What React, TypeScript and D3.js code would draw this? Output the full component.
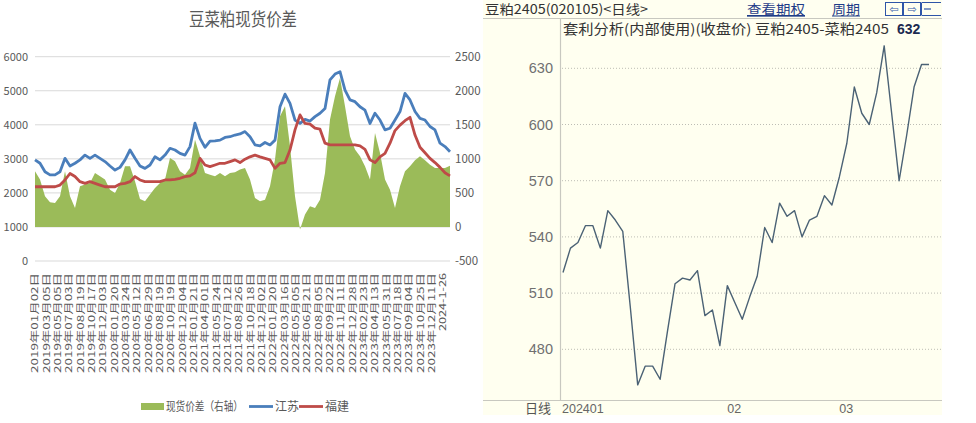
import React from 'react';
import * as d3 from 'd3';

// ---------- Left chart data ----------
const xLabels = [
  "2019年01月02日", "2019年03月05日", "2019年05月05日", "2019年07月03日", "2019年08月19日", "2019年10月17日", "2019年12月03日",
  "2020年01月20日", "2020年03月24日", "2020年05月12日", "2020年06月29日", "2020年08月19日", "2020年10月19日", "2020年12月04日",
  "2021年01月21日", "2021年04月01日", "2021年05月24日", "2021年07月12日", "2021年08月26日", "2021年10月18日", "2021年12月02日",
  "2022年01月20日", "2022年03月16日", "2022年05月05日", "2022年06月21日", "2022年08月05日", "2022年09月22日", "2022年11月11日", "2022年12月28日",
  "2023年02月23日", "2023年04月13日", "2023年05月31日", "2023年07月18日", "2023年09月04日", "2023年10月25日", "2023年12月11日",
  "2024-1-26"
];

const jiangsu = [
  2970, 2870, 2620, 2530, 2530, 2620, 3015, 2790, 2870, 2970,
  3110, 3015, 3110, 3015, 2920, 2790, 2670, 2750, 2970, 3260,
  3015, 2790, 2720, 2820, 3060, 2970, 3110, 3310, 3260, 3160,
  3110, 3360, 4050, 3600, 3340, 3520, 3530, 3550, 3630, 3650,
  3700, 3730, 3800, 3650, 3410, 3380, 3480, 3410, 3550, 4530,
  4900, 4630, 4140, 4040, 4160, 4110, 4240, 4340, 4480, 5320,
  5490, 5560, 5020, 4730, 4680, 4530, 4430, 4040, 4340, 4140,
  3850, 3900, 4140, 4390, 4920, 4730, 4390, 4190, 4140, 3950,
  3850, 3460, 3360, 3210
];

const fujian = [
  2180, 2180, 2180, 2180, 2180, 2230, 2380, 2570, 2480, 2330,
  2280, 2330, 2280, 2230, 2180, 2180, 2180, 2260, 2280, 2330,
  2480, 2380, 2330, 2330, 2330, 2330, 2380, 2380, 2400, 2430,
  2480, 2500, 2590, 3015, 2820, 2770, 2820, 2870, 2870, 2920,
  2970, 2890, 2990, 3060, 3110, 3060, 3015, 2970, 2720, 2870,
  2890, 3260, 3850, 4290, 4040, 4020, 3900, 3870, 3460, 3410,
  3410, 3410, 3410, 3410, 3410, 3380, 3280, 2970, 2890, 3060,
  3160, 3460, 3830, 3990, 4120, 4220, 3700, 3340, 3180, 3015,
  2890, 2750, 2590, 2500
];

const spotSpread = [
  817, 695, 450, 362, 352, 450, 817, 450, 279, 597,
  622, 646, 793, 744, 695, 548, 499, 646, 891, 891,
  671, 411, 377, 475, 573, 646, 695, 1013, 964, 817,
  768, 866, 1282, 1038, 793, 768, 744, 793, 744, 793,
  803, 842, 866, 695, 426, 377, 401, 597, 989, 1625,
  1772, 1185, 450, -39, 181, 303, 279, 401, 793, 1576,
  1919, 2188, 1772, 1331, 1136, 1038, 891, 695, 1380, 1087,
  695, 548, 279, 597, 817, 891, 979, 1038, 979, 915,
  866, 866, 866, 900
];

const leftTicks = [0, 1000, 2000, 3000, 4000, 5000, 6000];
const rightTicks = [-500, 0, 500, 1000, 1500, 2000, 2500];

// ---------- Right chart data ----------
const spread = [
  521, 534, 537, 546, 546, 534, 554, 549, 543, 503,
  461, 471, 471, 464, 490, 515, 518, 517, 522, 498,
  501, 482, 514, 505, 496, 508, 519, 545, 537, 558,
  551, 554, 540, 549, 551, 562, 557, 572, 590, 620,
  606, 600, 617, 642, 606, 570, 594, 620, 632, 632
];
const spreadTicks = [480, 510, 540, 570, 600, 630];
const monthTicks = ["202401", "02", "03"];
const monthTickIdx = [0, 22, 37];

const CJK = '"Noto Sans CJK SC", "Noto Sans", sans-serif';

export default function App() {
  // left chart scales
  const xL = d3.scaleLinear().domain([0, jiangsu.length - 1]).range([35, 450]);
  const yL = d3.scaleLinear().domain([0, 6000]).range([261, 56.7]);
  const yR = d3.scaleLinear().domain([-500, 2500]).range([261, 56.7]);
  const lblX = d3.scaleLinear().domain([0, xLabels.length - 1]).range([35, 443]);

  const areaGen = d3.area<number>().x((_, i) => xL(i)).y0(yR(0)).y1((d) => yR(d));
  const lineGen = d3.line<number>().x((_, i) => xL(i)).y((d) => yL(d));

  // right chart scales
  const xS = d3.scaleLinear().domain([0, spread.length - 1]).range([563, 929]);
  const yS = d3.scaleLinear().domain([480, 630]).range([349.3, 68.3]);
  const spreadLine = d3.line<number>().x((_, i) => xS(i)).y((d) => yS(d));

  return (
    <svg width={976} height={423} style={{ position: 'absolute', left: 0, top: 0, background: '#fff' }}>
      <rect x={0} y={0} width={976} height={423} fill="#fff" />
      {/* ================= LEFT CHART ================= */}
      <text x={243} y={26} textAnchor="middle" fontFamily={CJK} fontSize={18} fill="#595959" textLength={108} lengthAdjust="spacingAndGlyphs">豆菜粕现货价差</text>
      {leftTicks.map((t) => (
        <g key={'lg' + t}>
          <line x1={35} x2={450} y1={yL(t)} y2={yL(t)} stroke="#d9d9d9" strokeWidth={1} />
          <text x={28} y={yL(t) + 4} textAnchor="end" fontFamily={CJK} fontSize={11} fill="#595959">{t}</text>
        </g>
      ))}
      {rightTicks.map((t) => (
        <text key={'rt' + t} x={455} y={yR(t) + 4} textAnchor="start" fontFamily={CJK} fontSize={11.5} fill="#595959">{t}</text>
      ))}
      <path d={areaGen(spotSpread) || ''} fill="#9bbb59" />
      <path d={lineGen(jiangsu) || ''} fill="none" stroke="#4a7ebb" strokeWidth={2.8} strokeLinejoin="round" />
      <path d={lineGen(fujian) || ''} fill="none" stroke="#be4b48" strokeWidth={2.8} strokeLinejoin="round" />
      {xLabels.map((l, i) => (
        <text key={'xl' + i}
          transform={`translate(${lblX(i)},273) rotate(-90)`}
          dy="0.35em" textAnchor="end" fontFamily={CJK} fontSize={9.5} fill="#595959"
          textLength={i === xLabels.length - 1 ? 58 : 100} lengthAdjust="spacingAndGlyphs">{l}</text>
      ))}
      {/* legend */}
      <rect x={141} y={403} width={23} height={7} fill="#9bbb59" />
      <text x={166} y={411} fontFamily={CJK} fontSize={12} fill="#595959" textLength={77} lengthAdjust="spacingAndGlyphs">现货价差（右轴）</text>
      <line x1={249} x2={273} y1={406.5} y2={406.5} stroke="#4a7ebb" strokeWidth={2.8} />
      <text x={275} y={411} fontFamily={CJK} fontSize={12} fill="#595959">江苏</text>
      <line x1={299} x2={323} y1={406.5} y2={406.5} stroke="#be4b48" strokeWidth={2.8} />
      <text x={325} y={411} fontFamily={CJK} fontSize={12} fill="#595959">福建</text>

      {/* ================= RIGHT CHART ================= */}
      <rect x={483} y={0} width={459} height={415} fill="#fffff0" />
      <text x={485} y={14} fontFamily={CJK} fontSize={13} fill="#333" textLength={163} lengthAdjust="spacingAndGlyphs">豆粕2405(020105)&lt;日线&gt;</text>
      <text x={747} y={14} fontFamily={CJK} fontSize={13} fill="#1f3c88" textDecoration="underline" textLength={58} lengthAdjust="spacingAndGlyphs">查看期权</text>
      <line x1={747} x2={805} y1={16} y2={16} stroke="#1f3c88" strokeWidth={1} />
      <text x={832} y={14} fontFamily={CJK} fontSize={13} fill="#1f3c88" textLength={28} lengthAdjust="spacingAndGlyphs">周期</text>
      <line x1={832} x2={860} y1={16} y2={16} stroke="#1f3c88" strokeWidth={1} />
      {/* nav icons */}
      <rect x={885.5} y={2.5} width={17} height={13} fill="none" stroke="#2e55a8" strokeWidth={1} />
      <text x={894} y={13} textAnchor="middle" fontFamily="DejaVu Sans" fontSize={11} fill="#2e55a8">⇦</text>
      <rect x={903.5} y={2.5} width={17} height={13} fill="none" stroke="#2e55a8" strokeWidth={1} />
      <text x={912} y={13} textAnchor="middle" fontFamily="DejaVu Sans" fontSize={11} fill="#2e55a8">⇨</text>
      <line x1={921.5} x2={921.5} y1={2.5} y2={15.5} stroke="#2e55a8" strokeWidth={1} />
      <line x1={922} x2={941} y1={2.5} y2={2.5} stroke="#2e55a8" strokeWidth={1} />
      <line x1={922} x2={941} y1={15.5} y2={15.5} stroke="#2e55a8" strokeWidth={1} />
      <line x1={924} x2={931} y1={9} y2={9} stroke="#2e55a8" strokeWidth={1.2} />
      <line x1={483} x2={942} y1={18.5} y2={18.5} stroke="#c8c8c0" strokeWidth={1} />

      {spreadTicks.map((t) => (
        <g key={'st' + t}>
          <line x1={562} x2={942} y1={yS(t)} y2={yS(t)} stroke="#bdbdb5" strokeWidth={1} strokeDasharray="1,2" />
          <text x={553} y={yS(t) + 5} textAnchor="end" fontFamily="Liberation Sans, Arial, sans-serif" fontSize={14.5} fill="#707070">{t}</text>
        </g>
      ))}
      <line x1={560.5} x2={560.5} y1={19} y2={400} stroke="#c8c8c0" strokeWidth={1.2} />
      <line x1={483} x2={942} y1={400.5} y2={400.5} stroke="#c8c8c0" strokeWidth={1.2} />
      <text x={563} y={34} fontFamily={CJK} fontSize={13.5} fill="#333" textLength={326} lengthAdjust="spacingAndGlyphs">套利分析(内部使用)(收盘价) 豆粕2405-菜粕2405</text>
      <text x={897} y={34} fontFamily="Liberation Sans, Arial, sans-serif" fontSize={14} fontWeight="bold" fill="#1c2a50">{spread[spread.length - 1]}</text>
      <path d={spreadLine(spread) || ''} fill="none" stroke="#4b6275" strokeWidth={1.4} strokeLinejoin="round" />
      <text x={525} y={413} fontFamily={CJK} fontSize={13} fill="#555">日线</text>
      {monthTicks.map((m, i) => (
        <text key={'m' + m} x={xS(monthTickIdx[i]) - (i === 0 ? 1 : 0)} y={413} fontFamily="Liberation Sans, Arial, sans-serif" fontSize={12.5} fill="#666">{m}</text>
      ))}
    </svg>
  );
}
